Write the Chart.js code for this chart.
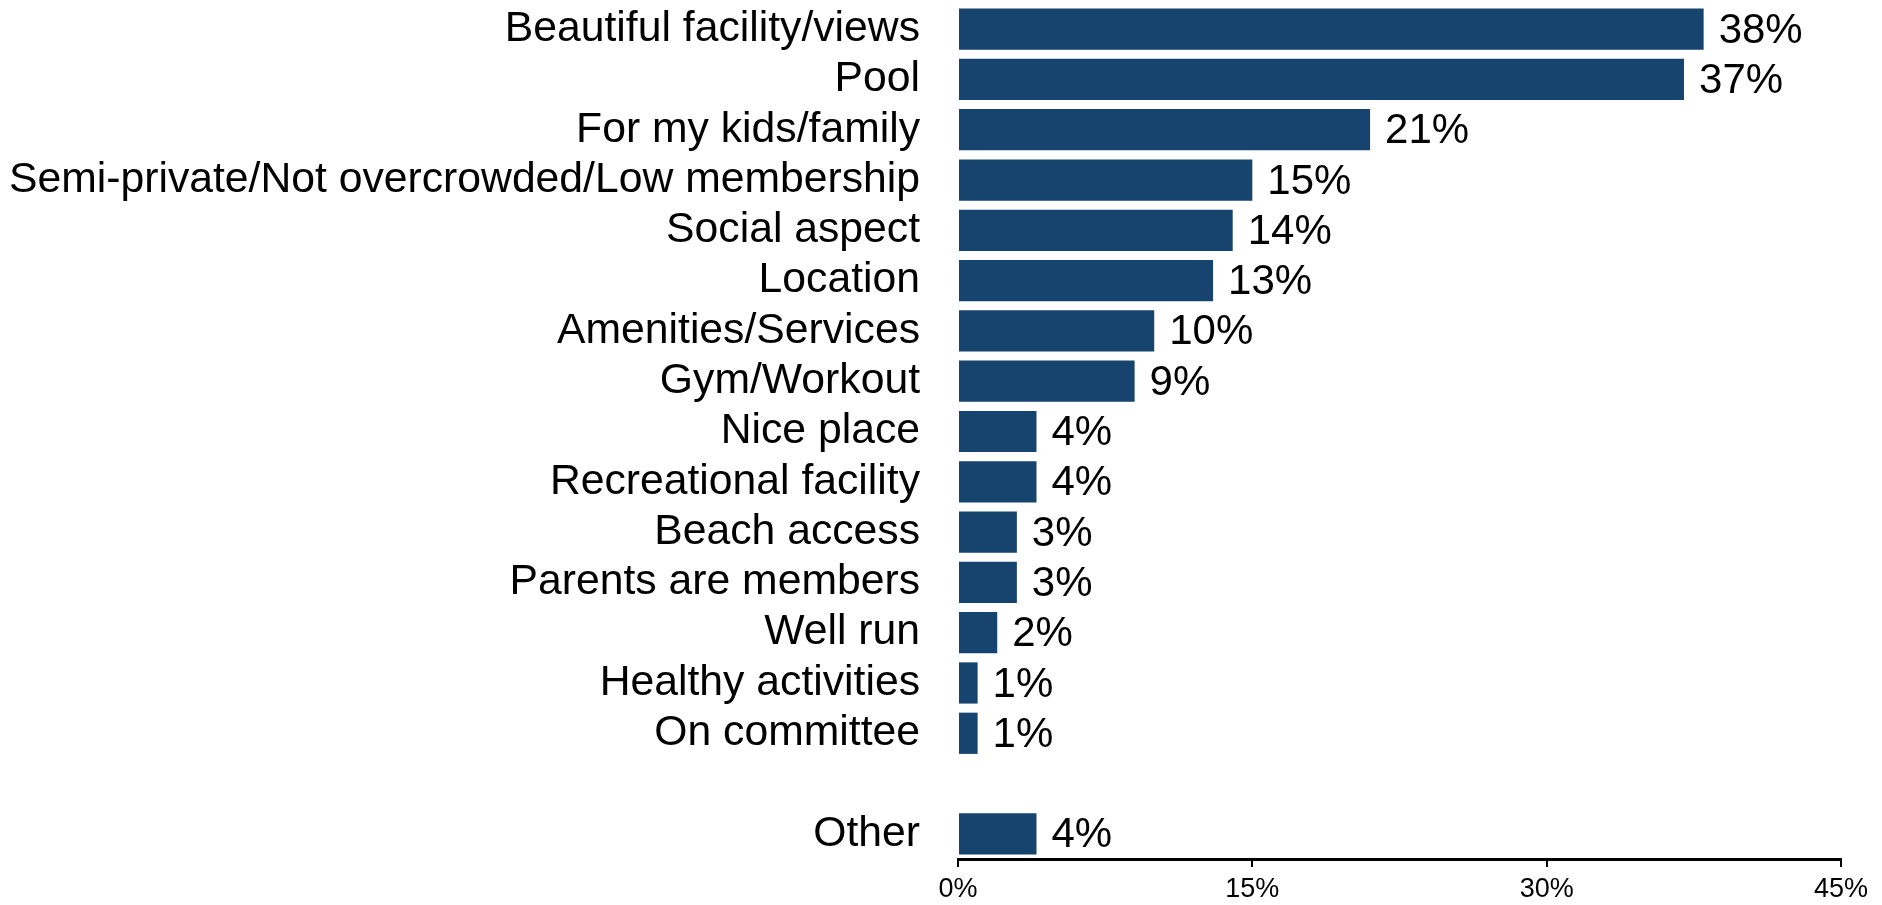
<!DOCTYPE html>
<html>
<head>
<meta charset="utf-8">
<title>Reasons for membership</title>
<script src="https://cdn.jsdelivr.net/npm/chart.js@4"></script>
<style>
    html, body { margin: 0; padding: 0; background: #fff; }
    #wrap { width: 1882px; height: 905px; }
</style>
</head>
<body>
<div id="wrap"><canvas id="reasonsChart"></canvas></div>
<script>
// Reasons, in display order (blank row separates "Other")
const reasons = [
    'Beautiful facility/views',
    'Pool',
    'For my kids/family',
    'Semi-private/Not overcrowded/Low membership',
    'Social aspect',
    'Location',
    'Amenities/Services',
    'Gym/Workout',
    'Nice place',
    'Recreational facility',
    'Beach access',
    'Parents are members',
    'Well run',
    'Healthy activities',
    'On committee',
    '',
    'Other'
];
const percents = [38, 37, 21, 15, 14, 13, 10, 9, 4, 4, 3, 3, 2, 1, 1, null, 4];
const axisTicks = [0, 15, 30, 45];

const barColor = '#16446f';
const fontFamily = '"Liberation Sans", Arial, sans-serif';

// Writes "NN%" just past the end of each bar
const valueLabels = {
    id: 'valueLabels',
    afterDatasetsDraw(chart) {
        const ctx = chart.ctx;
        const meta = chart.getDatasetMeta(0);
        ctx.save();
        ctx.font = '42px ' + fontFamily;
        ctx.fillStyle = '#000';
        ctx.textAlign = 'left';
        ctx.textBaseline = 'middle';
        meta.data.forEach((bar, i) => {
            const v = percents[i];
            if (v === null) return;
            ctx.fillText(v + '%', bar.x + 15, bar.y + 2);
        });
        ctx.restore();
    }
};

new Chart(document.getElementById('reasonsChart'), {
    type: 'bar',
    data: {
        labels: reasons,
        datasets: [{
            data: percents,
            backgroundColor: barColor,
            borderWidth: 0,
            categoryPercentage: 1,
            barPercentage: 0.82
        }]
    },
    options: {
        indexAxis: 'y',
        responsive: true,
        maintainAspectRatio: false,
        animation: false,
        layout: { padding: { top: 4, right: 41, bottom: 0, left: 0 } },
        plugins: {
            legend: { display: false },
            tooltip: { enabled: false }
        },
        scales: {
            x: {
                min: 0,
                max: 45,
                afterBuildTicks(scale) {
                    scale.ticks = axisTicks.map(v => ({ value: v }));
                },
                afterFit(scale) { scale.height = 46; },
                grid: {
                    drawOnChartArea: false,
                    drawTicks: true,
                    tickLength: 8,
                    color: '#000',
                    lineWidth: 2
                },
                border: { display: true, color: '#000', width: 3 },
                ticks: {
                    color: '#000',
                    padding: 6,
                    maxRotation: 0,
                    font: { family: fontFamily, size: 27 },
                    callback: v => v + '%'
                }
            },
            y: {
                // fixed gutter for the category labels; no extra top/bottom room
                afterFit(scale) {
                    scale.width = 958;
                    scale.paddingTop = 0;
                    scale.paddingBottom = 0;
                },
                grid: { display: false, drawTicks: false },
                border: { display: false },
                ticks: {
                    color: '#000',
                    padding: 38,
                    autoSkip: false,
                    font: { family: fontFamily, size: 42.7 }
                }
            }
        }
    },
    plugins: [valueLabels]
});
</script>
</body>
</html>
